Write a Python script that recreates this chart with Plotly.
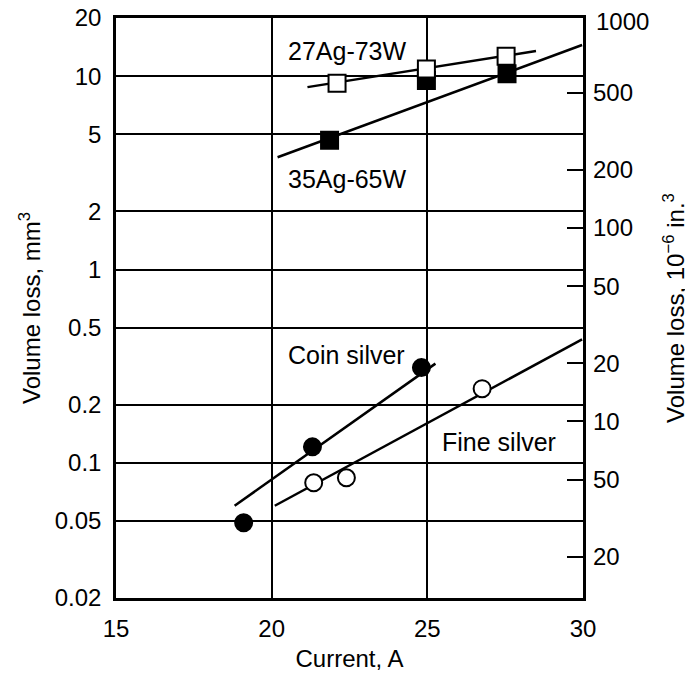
import math
import plotly.graph_objects as go

# ---- data ----
ag27_x = [22.1, 24.97, 27.53]
ag27_y = [9.2, 10.9, 12.7]
ag27_fit_x = [21.15, 28.49]
ag27_fit_y = [8.78, 13.5]

ag35_x = [21.86, 24.97, 27.56]
ag35_y = [4.67, 9.5, 10.3]
ag35_fit_x = [20.19, 29.97]
ag35_fit_y = [3.81, 14.5]

coin_x = [19.10, 21.31, 24.81]
coin_y = [0.049, 0.121, 0.311]
coin_fit_x = [18.81, 25.26]
coin_fit_y = [0.060, 0.326]

fine_x = [21.35, 22.40, 26.76]
fine_y = [0.0789, 0.0837, 0.242]
fine_fit_x = [20.10, 29.97]
fine_fit_y = [0.060, 0.435]

x_ticks = [15, 20, 25, 30]
left_ticks = [20, 10, 5, 2, 1, 0.5, 0.2, 0.1, 0.05, 0.02]
left_labels = ["20", "10", "5", "2", "1", "0.5", "0.2", "0.1", "0.05", "0.02"]
right_ticks = [500, 200, 100, 50, 20, 10, 5, 2]
right_labels = ["500", "200", "100", "50", "20", "10", "50", "20"]
MM3_TO_IN3E6 = 61.0237

labels = ["27Ag-73W", "35Ag-65W", "Coin silver", "Fine silver"]
label_x = [22.44, 22.42, 22.39, 27.31]
label_y = [13.5, 2.93, 0.36, 0.1286]

FONT = "Liberation Sans, Arial, sans-serif"
FS = 24
FA = 25
fig = go.Figure()

def fit(x, y):
    fig.add_trace(go.Scatter(x=x, y=y, mode="lines", line=dict(color="black", width=2.5),
                             showlegend=False, hoverinfo="skip"))

def pts(x, y, sym, fill):
    fig.add_trace(go.Scatter(x=x, y=y, mode="markers", showlegend=False,
                             marker=dict(symbol=sym, size=17, color=fill,
                                         line=dict(color="black", width=2))))

fit(ag27_fit_x, ag27_fit_y)
fit(ag35_fit_x, ag35_fit_y)
fit(coin_fit_x, coin_fit_y)
fit(fine_fit_x, fine_fit_y)
pts(ag35_x, ag35_y, "square", "black")
pts(ag27_x, ag27_y, "square", "white")
pts(coin_x, coin_y, "circle", "black")
pts(fine_x, fine_y, "circle", "white")

# dummy trace for right axis
fig.add_trace(go.Scatter(x=[15], y=[100], yaxis="y2", mode="markers",
                         marker=dict(opacity=0), showlegend=False, hoverinfo="skip"))

lo, hi = 0.02, 20
fig.update_layout(
    width=693, height=676,
    margin=dict(l=108, r=118, t=10, b=86),
    paper_bgcolor="white", plot_bgcolor="white",
    font=dict(family=FONT, size=FS, color="black"),
    xaxis=dict(range=[15, 30], tickvals=x_ticks, ticktext=[str(v) for v in x_ticks],
               showgrid=True, gridcolor="black", gridwidth=1.8,
               showline=True, linecolor="black", linewidth=2.5, mirror=True,
               ticks="", ticklabelstandoff=7, zeroline=False, automargin=False,
               ticklabeloverflow="allow", tickfont=dict(size=FS),
               title=dict(text="Current, A", standoff=10, font=dict(size=FS))),
    yaxis=dict(type="log", range=[math.log10(lo), math.log10(hi)],
               tickvals=left_ticks, ticktext=left_labels,
               showgrid=True, gridcolor="black", gridwidth=1.8,
               showline=True, linecolor="black", linewidth=2.5, mirror=True,
               ticks="", ticklabelstandoff=7, zeroline=False, automargin=False,
               ticklabeloverflow="allow", tickfont=dict(size=FS),
               title=dict(text="Volume loss, mm<sup>3</sup>", standoff=8, font=dict(size=FS))),
    yaxis2=dict(type="log", overlaying="y", side="right",
                range=[math.log10(lo * MM3_TO_IN3E6), math.log10(hi * MM3_TO_IN3E6)],
                tickvals=right_ticks, ticktext=right_labels,
                showgrid=False, showline=False, zeroline=False, automargin=False,
                ticks="inside", ticklen=16, tickwidth=2, tickcolor="black",
                ticklabelstandoff=9, ticklabeloverflow="allow", tickfont=dict(size=FS),
                title=dict(text="Volume loss, 10<sup>−6</sup> in.<sup>3</sup>", standoff=35,
                           font=dict(size=FS))),
)

for t, x, y in zip(labels, label_x, label_y):
    fig.add_annotation(text=t, x=x, y=math.log10(y), xref="x", yref="y", showarrow=False,
                       font=dict(size=FA, family=FONT))
fig.add_annotation(text="1000", x=1.0, y=1.0, xref="paper", yref="paper", xanchor="left",
                   yanchor="middle", xshift=11, yshift=-3, showarrow=False,
                   font=dict(size=FS, family=FONT))

fig.write_html("out.html")
